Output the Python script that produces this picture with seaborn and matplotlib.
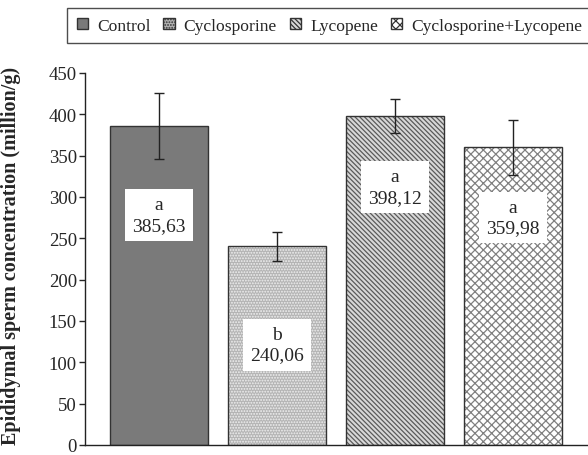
import pandas as pd
import seaborn as sns
import matplotlib.pyplot as plt
from matplotlib.patches import Patch

groups = ['Control', 'Cyclosporine', 'Lycopene', 'Cyclosporine+Lycopene']
means = [385.63, 240.06, 398.12, 359.98]
errors = [40, 17, 20.5, 33]
letters = ['a', 'b', 'a', 'a']
label_y = [278, 121, 312, 275]

df = pd.DataFrame({'Group': groups, 'Mean': means})

sns.set_style('ticks')
plt.rcParams['font.family'] = ['Liberation Serif', 'DejaVu Serif']
plt.rcParams['hatch.linewidth'] = 0.9

fig = plt.figure(figsize=(5.88, 4.56), dpi=100)
ax = fig.add_axes([0.145, 0.022, 0.853, 0.816])

faces = ['#7a7a7a', '#b4b4b4', '#d8d8d8', '#ffffff']
hatches = [None, '......', '\\\\\\\\\\\\\\', 'xxxx']
hatch_cols = ['#7a7a7a', '#f0f0f0', '#5a5a5a', '#808080']

sns.barplot(data=df, x='Group', y='Mean', hue='Group', palette=faces,
            width=0.83, legend=False, ax=ax, edgecolor='#333333', linewidth=1)

for bar, h, hc, fc in zip(ax.patches, hatches, hatch_cols, faces):
    bar.set_facecolor(fc)
    if h:
        bar.set_hatch(h)
        bar._hatch_color = plt.matplotlib.colors.to_rgba(hc)

ax.errorbar(range(len(groups)), means, yerr=errors, fmt='none', ecolor='#222222',
            elinewidth=1, capsize=3.5, capthick=1)

for i, (lt, m, ly) in enumerate(zip(letters, means, label_y)):
    ax.text(i, ly, f'{lt}\n{m:.2f}'.replace('.', ','), ha='center', va='center',
            fontsize=14, linespacing=1.25,
            bbox=dict(facecolor='white', edgecolor='none', pad=5))

ax.set_xlim(-0.625, 3.625)
ax.set_ylim(0, 450)
ax.set_yticks(range(0, 451, 50))
ax.set_xticks([])
ax.set_xlabel('')
ax.set_ylabel('Epididymal sperm concentration (million/g)', fontsize=14.5,
              fontweight='bold')
ax.yaxis.set_label_coords(-0.128, 0.51)
ax.tick_params(axis='y', labelsize=13.5, direction='out', length=4, width=1, pad=2)
for s in ['top', 'right']:
    ax.spines[s].set_visible(False)
for s in ['left', 'bottom']:
    ax.spines[s].set_color('#222222')
    ax.spines[s].set_linewidth(1)

handles = []
for g, h, fc in zip(groups, hatches, faces):
    handles.append(Patch(facecolor=fc, edgecolor='#333333', hatch=h, label=g))
leg = fig.legend(handles=handles, loc='upper left', bbox_to_anchor=(0.114, 0.98),
                 ncol=4, frameon=True, fancybox=False, fontsize=12.6,
                 handlelength=0.65, handleheight=0.65, handletextpad=0.5,
                 columnspacing=0.75, borderpad=0.55, borderaxespad=0)
leg.get_frame().set_edgecolor('#222222')
leg.get_frame().set_linewidth(1)

fig.savefig('out.png', dpi=100)
